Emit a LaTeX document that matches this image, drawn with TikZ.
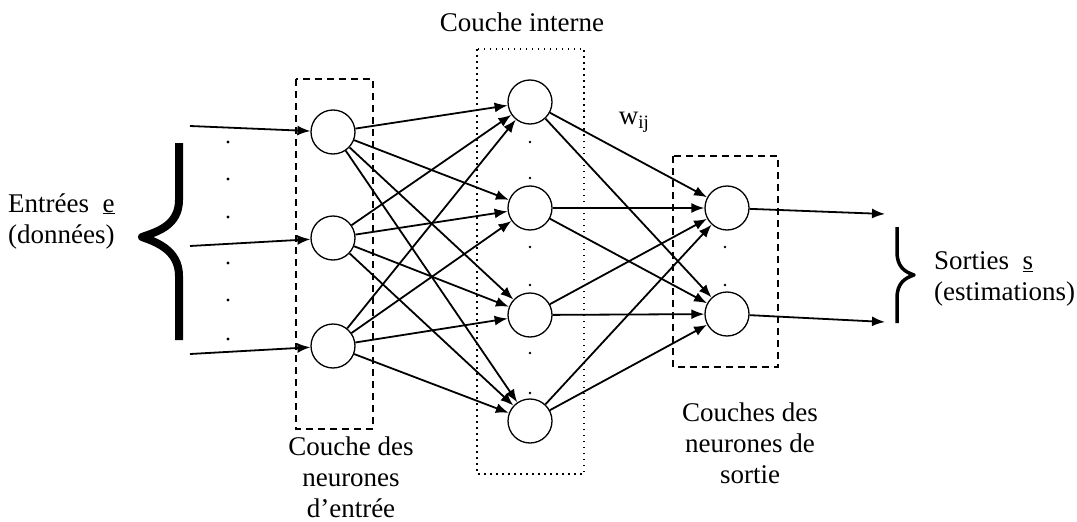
\documentclass[tikz,border=0pt]{standalone}
\usepackage{fontspec}
\setmainfont{Liberation Serif}
\usetikzlibrary{arrows.meta}

\begin{document}
\begin{tikzpicture}[x=1pt, y=-1pt,
    neuron/.style = {draw, circle, line width=1.3pt, minimum size=44pt, inner sep=0pt},
    link/.style = {line width=1.8pt, -{Latex[length=13pt,width=10pt]}},
    layerbox/.style = {line width=1.4pt, dash pattern=on 7pt off 5pt},
    hiddenbox/.style = {line width=1.6pt, dash pattern=on 1.5pt off 4.5pt},
    lab/.style = {font=\fontsize{27}{31}\selectfont, align=center, inner sep=0pt}]
  \useasboundingbox (0,0) rectangle (1077,522);

  % Layer boxes
  \draw[layerbox] (296,79) rectangle (373,429);    % input layer
  \draw[hiddenbox] (477,49) rectangle (584,474);   % hidden layer
  \draw[layerbox] (673,156) rectangle (778,367);   % output layer

  % Neurons
  \node[neuron] (i1) at (333,132) {};
  \node[neuron] (i2) at (333,238) {};
  \node[neuron] (i3) at (333,346) {};
  \node[neuron] (h1) at (530,102) {};
  \node[neuron] (h2) at (530,208) {};
  \node[neuron] (h3) at (530,315) {};
  \node[neuron] (h4) at (530,421) {};
  \node[neuron] (o1) at (727,208) {};
  \node[neuron] (o2) at (727,314) {};

  % Free ends of the input and output arrows
  \coordinate (e1) at (190,126);
  \coordinate (e2) at (190,246);
  \coordinate (e3) at (190,354);
  \coordinate (s1) at (885,214);
  \coordinate (s2) at (885,322);

  % Connections
  \foreach \k in {1,2,3} \draw[link] (e\k) -- (i\k);
  \foreach \i in {1,2,3} \foreach \j in {1,...,4} \draw[link] (i\i) -- (h\j);
  \foreach \j in {1,...,4} \foreach \k in {1,2} \draw[link] (h\j) -- (o\k);
  \foreach \k in {1,2} \draw[link] (o\k) -- (s\k);

  % Small dots between neurons
  \foreach \y in {142,179,217,263,300,339} \fill (228,\y) circle (1.6pt);
  \foreach \y in {142,178,247,285,353,393} \fill (530,\y) circle (1.3pt);
  \foreach \y in {247,285} \fill (725,\y) circle (1.3pt);

  % Braces
  \draw[line width=8pt, line join=round]
    (179,143) -- (179,200) .. controls (179,226) and (156,232) .. (142,237)
    .. controls (156,242) and (179,250) .. (179,276) -- (179,340);
  \draw[line width=3.5pt, line join=round]
    (897,227) -- (897,252) .. controls (897,267) and (905,272) .. (914,275)
    .. controls (905,278) and (897,283) .. (897,298) -- (897,323);

  % Labels
  \node[lab] (hidlab) at (522,22) {Couche interne};
  \node[lab] (wij) at (634,122) {w\textsubscript{ij}};
  \node[lab] (inlab) at (351,477) {Couche des\\neurones\\d'entrée};
  \node[lab] (outlab) at (750,443) {Couches des\\neurones de\\sortie};
  \node[lab, align=left, anchor=west] (inputs) at (8,221) {Entrées~~\underline{e}\\(données)};
  \node[lab, align=left, anchor=west] (outputs) at (934,279) {Sorties~~\underline{s}\\(estimations)};
\end{tikzpicture}
\end{document}
